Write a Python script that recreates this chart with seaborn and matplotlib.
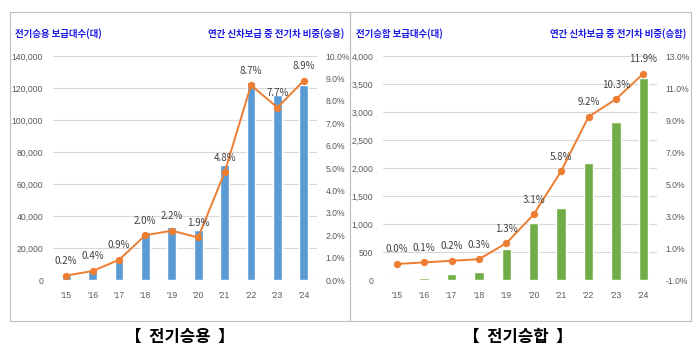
import numpy as np
import pandas as pd
import matplotlib
matplotlib.use("Agg")
import matplotlib.pyplot as plt
import seaborn as sns
from matplotlib.patches import Rectangle
from matplotlib.ticker import FuncFormatter, FixedLocator
from matplotlib import font_manager

years = ["'15", "'16", "'17", "'18", "'19", "'20", "'21", "'22", "'23", "'24"]
car_counts = [3000, 5700, 13800, 30000, 33400, 31300, 71700, 123700, 115400, 122000]
car_share = [0.2, 0.4, 0.9, 2.0, 2.2, 1.9, 4.8, 8.7, 7.7, 8.9]
bus_counts = [5, 35, 100, 145, 550, 1020, 1290, 2090, 2830, 3600]
bus_share = [0.0, 0.1, 0.2, 0.3, 1.3, 3.1, 5.8, 9.2, 10.3, 11.9]

sns.set_theme(style="white")
plt.rcParams['font.family'] = ['Noto Sans CJK KR', 'DejaVu Sans']

names = {f.name for f in font_manager.fontManager.ttflist}
NUM_FONT = 'Liberation Sans Narrow' if 'Liberation Sans Narrow' in names else 'Liberation Sans'
NUM_SIZE = 7.6 if NUM_FONT == 'Liberation Sans Narrow' else 6.2

W, H = 698, 351
fig = plt.figure(figsize=(W / 100, H / 100), dpi=100)

def fx(px):
    return px / W

def fy(py):
    return 1 - py / H

TICK_C = '#595959'
LINE_C = '#ED7D31'
TITLE_C = '#1A1AE6'


def panel(left_px, right_px, counts, share, bar_color, yticks, pticks,
          ltitle, rtitle, title_left_px, title_right_px, caption, cap_x):
    top_px, bot_px = 56, 280
    ax = fig.add_axes([fx(left_px), fy(bot_px), fx(right_px - left_px), (bot_px - top_px) / H])
    df = pd.DataFrame({'year': years, 'count': counts})
    sns.barplot(data=df, x='year', y='count', color=bar_color, width=0.34, ax=ax,
                saturation=1, zorder=2)
    ax.set_xlim(-0.5, 9.5)
    ax.set_ylim(yticks[0], yticks[-1])
    ax.yaxis.set_major_locator(FixedLocator(yticks))
    ax.yaxis.set_major_formatter(FuncFormatter(lambda v, p: f"{int(v):,}"))
    ax.grid(axis='y', color='#D9D9D9', lw=0.8, zorder=0)
    ax.set_axisbelow(True)
    ax.set_xlabel('')
    ax.set_ylabel('')
    for s in ax.spines.values():
        s.set_visible(False)
    ax.tick_params(axis='both', length=0, labelsize=NUM_SIZE, labelcolor=TICK_C)
    ax.tick_params(axis='y', pad=7)
    ax.tick_params(axis='x', pad=8)
    for lab in ax.get_xticklabels() + ax.get_yticklabels():
        lab.set_fontfamily(NUM_FONT)

    ax2 = ax.twinx()
    sns.lineplot(x=np.arange(len(years)), y=share, ax=ax2, color=LINE_C, marker='o',
                 markersize=4.5, markeredgecolor=LINE_C, lw=1.4, zorder=3)
    ax2.set_ylim(pticks[0], pticks[-1])
    ax2.yaxis.set_major_locator(FixedLocator(pticks))
    ax2.yaxis.set_major_formatter(FuncFormatter(lambda v, p: f"{v:.1f}%"))
    ax2.set_xlim(-0.5, 9.5)
    ax2.set_ylabel('')
    for s in ax2.spines.values():
        s.set_visible(False)
    ax2.tick_params(axis='y', length=0, labelsize=NUM_SIZE, labelcolor=TICK_C, pad=6)
    for lab in ax2.get_yticklabels():
        lab.set_fontfamily(NUM_FONT)
    for i, v in enumerate(share):
        ax2.annotate(f"{v:.1f}%", (i, v), xytext=(0, 10.5), textcoords='offset points',
                     ha='center', va='center', fontsize=7, color='#404040')

    fig.text(fx(title_left_px), fy(34), ltitle, ha='left', va='center', fontsize=6.8,
             fontweight='bold', color=TITLE_C)
    fig.text(fx(title_right_px), fy(34), rtitle, ha='right', va='center', fontsize=6.8,
             fontweight='bold', color=TITLE_C)
    fig.text(fx(cap_x), fy(337), caption, ha='center', va='center', fontsize=12,
             fontweight='bold', color='black')


panel(53, 317, car_counts, car_share, '#5B9BD5',
      list(range(0, 140001, 20000)), [float(v) for v in range(0, 11)],
      '전기승용 보급대수(대)', '연간 신차보급 중 전기차 비중(승용)', 15, 344,
      '【  전기승용  】', 180)
panel(383, 657, bus_counts, bus_share, '#70AD47',
      list(range(0, 4001, 500)), [float(v) for v in range(-1, 14, 2)],
      '전기승합 보급대수(대)', '연간 신차보급 중 전기차 비중(승합)', 356, 686,
      '【  전기승합  】', 518)

for x0, x1 in [(10, 350), (350, 691)]:
    fig.add_artist(Rectangle((fx(x0), fy(321)), fx(x1 - x0), (321 - 12) / H,
                             transform=fig.transFigure, fill=False,
                             edgecolor='#BFBFBF', lw=0.8))

fig.savefig('out.png', dpi=100)
